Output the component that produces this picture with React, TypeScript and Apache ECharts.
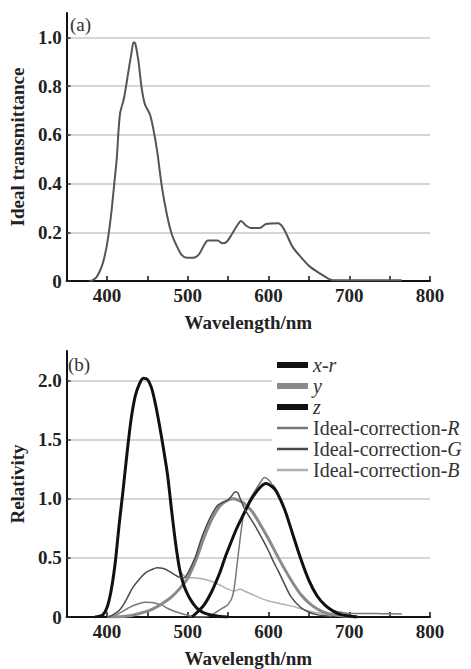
import React, { useEffect, useRef } from "react";
import * as echarts from "echarts";

// (a) Ideal transmittance
const aWavelength = [378, 382, 387, 391, 395, 400, 405, 409, 412, 416, 421, 426, 430, 433, 435, 439, 443, 447, 453, 457, 462, 468, 474, 480, 487, 493, 499, 507, 514, 520, 525, 537, 543, 548, 555, 562, 566, 572, 578, 589, 597, 612, 617, 622, 630, 641, 651, 664, 674, 680, 700, 740, 765];
const aTransmittance = [0, 0.003, 0.016, 0.04, 0.075, 0.15, 0.27, 0.4, 0.5, 0.685, 0.75, 0.85, 0.93, 0.98, 0.975, 0.9, 0.79, 0.725, 0.685, 0.63, 0.535, 0.385, 0.275, 0.194, 0.139, 0.105, 0.095, 0.095, 0.11, 0.146, 0.166, 0.166, 0.155, 0.16, 0.194, 0.232, 0.246, 0.228, 0.218, 0.218, 0.234, 0.237, 0.224, 0.194, 0.139, 0.095, 0.06, 0.03, 0.01, 0.003, 0.003, 0.003, 0.003];

// (b) Relativity
const xrWavelength = [505, 510, 520, 530, 540, 546, 550, 560, 570, 579, 590, 597, 605, 610, 620, 630, 640, 650, 660, 670, 680, 690, 700, 710];
const xrValue = [0, 0.03, 0.1, 0.22, 0.38, 0.5, 0.57, 0.74, 0.88, 1.0, 1.1, 1.13, 1.1, 1.06, 0.91, 0.7, 0.49, 0.31, 0.18, 0.1, 0.05, 0.02, 0.008, 0];

const yWavelength = [400, 410, 420, 430, 440, 450, 460, 470, 480, 490, 500, 510, 520, 530, 540, 550, 557, 565, 570, 580, 590, 600, 610, 620, 630, 640, 650, 660, 670, 680, 690, 700, 710];
const yValue = [0, 0.001, 0.004, 0.012, 0.03, 0.05, 0.08, 0.12, 0.17, 0.24, 0.33, 0.48, 0.67, 0.83, 0.94, 0.99, 1.0, 0.98, 0.96, 0.89, 0.78, 0.66, 0.53, 0.405, 0.29, 0.19, 0.12, 0.07, 0.037, 0.02, 0.01, 0.005, 0];

const zWavelength = [385, 390, 395, 400, 405, 410, 415, 420, 425, 430, 435, 440, 445, 450, 455, 460, 465, 470, 475, 480, 485, 490, 495, 500, 505, 510, 515, 520, 530, 540, 550];
const zValue = [0, 0.005, 0.02, 0.08, 0.22, 0.45, 0.78, 1.08, 1.4, 1.68, 1.87, 1.97, 2.02, 2.01, 1.94, 1.8, 1.62, 1.42, 1.2, 0.9, 0.62, 0.4, 0.27, 0.19, 0.13, 0.085, 0.055, 0.035, 0.015, 0.005, 0];

const rWavelength = [405, 415, 425, 432, 440, 448, 455, 460, 468, 476, 485, 497, 505, 510, 520, 530, 537, 543, 549, 554, 557, 561, 565, 569, 573, 580, 590, 595, 600, 610, 620, 630, 640, 650, 660, 670, 680, 690, 700, 720, 740, 765];
const rValue = [0, 0.03, 0.07, 0.095, 0.115, 0.125, 0.122, 0.117, 0.1, 0.07, 0.045, 0.02, 0.005, 0, 0, 0.02, 0.05, 0.075, 0.1, 0.15, 0.22, 0.44, 0.67, 0.86, 0.94, 1.03, 1.14, 1.18, 1.16, 1.07, 0.9, 0.7, 0.5, 0.32, 0.19, 0.1, 0.055, 0.04, 0.03, 0.03, 0.028, 0.025];

const gWavelength = [400, 405, 410, 415, 420, 425, 432, 440, 448, 455, 462, 470, 476, 483, 490, 495, 500, 505, 510, 517, 525, 530, 537, 545, 550, 555, 559, 562, 565, 570, 578, 586, 594, 600, 606, 612, 618, 628, 640, 650, 660, 670, 680];
const gValue = [0, 0.01, 0.03, 0.055, 0.1, 0.16, 0.25, 0.32, 0.375, 0.4, 0.417, 0.41, 0.39, 0.36, 0.335, 0.33, 0.37, 0.44, 0.52, 0.667, 0.8, 0.87, 0.944, 0.975, 0.99, 1.03, 1.06, 1.05, 1.0, 0.92, 0.83, 0.74, 0.64, 0.56, 0.47, 0.39, 0.305, 0.17, 0.08, 0.04, 0.02, 0.01, 0];

const bWavelength = [385, 390, 395, 400, 405, 410, 415, 420, 425, 430, 435, 440, 445, 450, 455, 460, 465, 470, 475, 480, 485, 490, 495, 500, 510, 520, 530, 540, 550, 557, 565, 570, 580, 590, 600, 610, 620, 630, 640, 650, 660, 670, 680, 690, 700];
const bValue = [0, 0.005, 0.02, 0.08, 0.22, 0.45, 0.78, 1.08, 1.4, 1.68, 1.87, 1.97, 2.02, 2.01, 1.94, 1.8, 1.62, 1.42, 1.2, 0.9, 0.62, 0.4, 0.35, 0.335, 0.33, 0.32, 0.3, 0.27, 0.235, 0.22, 0.235, 0.22, 0.19, 0.16, 0.135, 0.12, 0.105, 0.09, 0.07, 0.05, 0.035, 0.025, 0.015, 0.01, 0.005];

const legendNames = ["x-r", "y", "z", "Ideal-correction-R", "Ideal-correction-G", "Ideal-correction-B"];
const xTicks = [400, 500, 600, 700, 800];

const FONT = "'Liberation Serif', 'DejaVu Serif', serif";
const THICK_ICON = "path://M0,0H31V6H0Z";
const THIN_ICON = "path://M0,0h0.01v0.01h-0.01Z M0,1.8H31V4.2H0Z M30.99,5.99h0.01v0.01h-0.01Z";

const pair = (xs: number[], ys: number[]) => xs.map((x, i) => [x, ys[i]]);

export default function App() {
  const ref = useRef<HTMLDivElement>(null);
  useEffect(() => {
    if (!ref.current) return;
    const chart = echarts.init(ref.current, null, { renderer: "svg" });

    const xAxisBase = (gridIndex: number) => ({
      type: "value",
      gridIndex,
      min: 350,
      max: 800,
      interval: 50,
      name: "Wavelength/nm",
      nameLocation: "middle",
      nameGap: 32,
      nameTextStyle: { fontFamily: FONT, fontSize: 19, fontWeight: "bold", color: "#222" },
      axisLine: { show: true, lineStyle: { color: "#111", width: 2 } },
      axisTick: { show: true, inside: true, length: 5, lineStyle: { color: "#111", width: 1.5 } },
      axisLabel: {
        fontFamily: FONT,
        fontSize: 19,
        fontWeight: "bold",
        color: "#222",
        margin: 5,
        formatter: (v: number) => (xTicks.includes(v) ? String(v) : ""),
      },
      splitLine: { show: false },
    });

    const yAxisBase = (gridIndex: number, max: number, interval: number, name: string, hideAbove: number) => ({
      type: "value",
      gridIndex,
      min: 0,
      max,
      interval,
      name,
      nameLocation: "middle",
      nameGap: 37,
      nameTextStyle: { fontFamily: FONT, fontSize: 19, fontWeight: "bold", color: "#222" },
      axisLine: { show: true, lineStyle: { color: "#111", width: 2 } },
      axisTick: { show: true, inside: true, length: 4, lineStyle: { color: "#333", width: 1.5 } },
      axisLabel: {
        fontFamily: FONT,
        fontSize: 19,
        fontWeight: "bold",
        color: "#222",
        margin: 5,
        showMaxLabel: false,
        formatter: (v: number) => (v > hideAbove ? "" : v === 0 ? "0" : v.toFixed(1)),
      },
      splitLine: { show: true, showMinLine: false, showMaxLine: false, lineStyle: { color: "#c8c8c8", width: 1.5 } },
    });

    const lineSeries = (name: string, xs: number[], ys: number[], color: string, width: number, z: number) => ({
      name,
      type: "line",
      xAxisIndex: 1,
      yAxisIndex: 1,
      data: pair(xs, ys),
      showSymbol: false,
      smooth: 0.3,
      color,
      itemStyle: { color },
      lineStyle: { color, width },
      z,
    });

    const option: any = {
      animation: false,
      backgroundColor: "#fff",
      grid: [
        { left: 63, width: 367, top: 13, height: 268 },
        { left: 63, width: 367, top: 351, height: 267 },
      ],
      xAxis: [xAxisBase(0), xAxisBase(1)],
      yAxis: [
        yAxisBase(0, 1.1, 0.2, "Ideal transmittance", 1.05),
        yAxisBase(1, 2.25, 0.5, "Relativity", 2.1),
      ],
      legend: {
        orient: "vertical",
        left: 272,
        top: 351,
        padding: [4, 4, 4, 5],
        backgroundColor: "#fff",
        itemGap: 1,
        itemWidth: 31,
        itemHeight: 6,
        selectedMode: false,
        data: legendNames.map((n, i) => ({ name: n, icon: i < 3 ? THICK_ICON : THIN_ICON })),
        formatter: (name: string) => {
          if (name.length <= 3) return `{i|${name}}`;
          return `{n|${name.slice(0, -1)}}{i|${name.slice(-1)}}`;
        },
        textStyle: {
          fontFamily: FONT,
          fontSize: 20,
          color: "#333",
          lineHeight: 20,
          rich: {
            n: { fontFamily: FONT, fontSize: 20, color: "#333", lineHeight: 20 },
            i: { fontFamily: FONT, fontSize: 20, color: "#333", fontStyle: "italic", lineHeight: 20 },
          },
        },
      },
      graphic: [
        { type: "text", left: 70, top: 15, style: { text: "(a)", fontFamily: FONT, fontSize: 19, fill: "#333" } },
        { type: "text", left: 68, top: 355, style: { text: "(b)", fontFamily: FONT, fontSize: 19, fill: "#333" } },
      ],
      series: [
        {
          name: "Ideal transmittance",
          type: "line",
          xAxisIndex: 0,
          yAxisIndex: 0,
          data: pair(aWavelength, aTransmittance),
          showSymbol: false,
          smooth: 0.3,
          color: "#555",
          lineStyle: { color: "#555", width: 2 },
        },
        lineSeries("Ideal-correction-B", bWavelength, bValue, "#b0b0b0", 1.5, 2),
        lineSeries("Ideal-correction-R", rWavelength, rValue, "#777", 1.5, 3),
        lineSeries("y", yWavelength, yValue, "#8a8a8a", 3, 4),
        lineSeries("x-r", xrWavelength, xrValue, "#111", 3, 5),
        lineSeries("z", zWavelength, zValue, "#111", 3, 5),
        lineSeries("Ideal-correction-G", gWavelength, gValue, "#4a4a4a", 1.5, 6),
      ],
    };
    chart.setOption(option);
    return () => chart.dispose();
  }, []);
  return <div ref={ref} style={{ position: "fixed", left: 0, top: 0, width: 471, height: 669, background: "#fff" }} />;
}
